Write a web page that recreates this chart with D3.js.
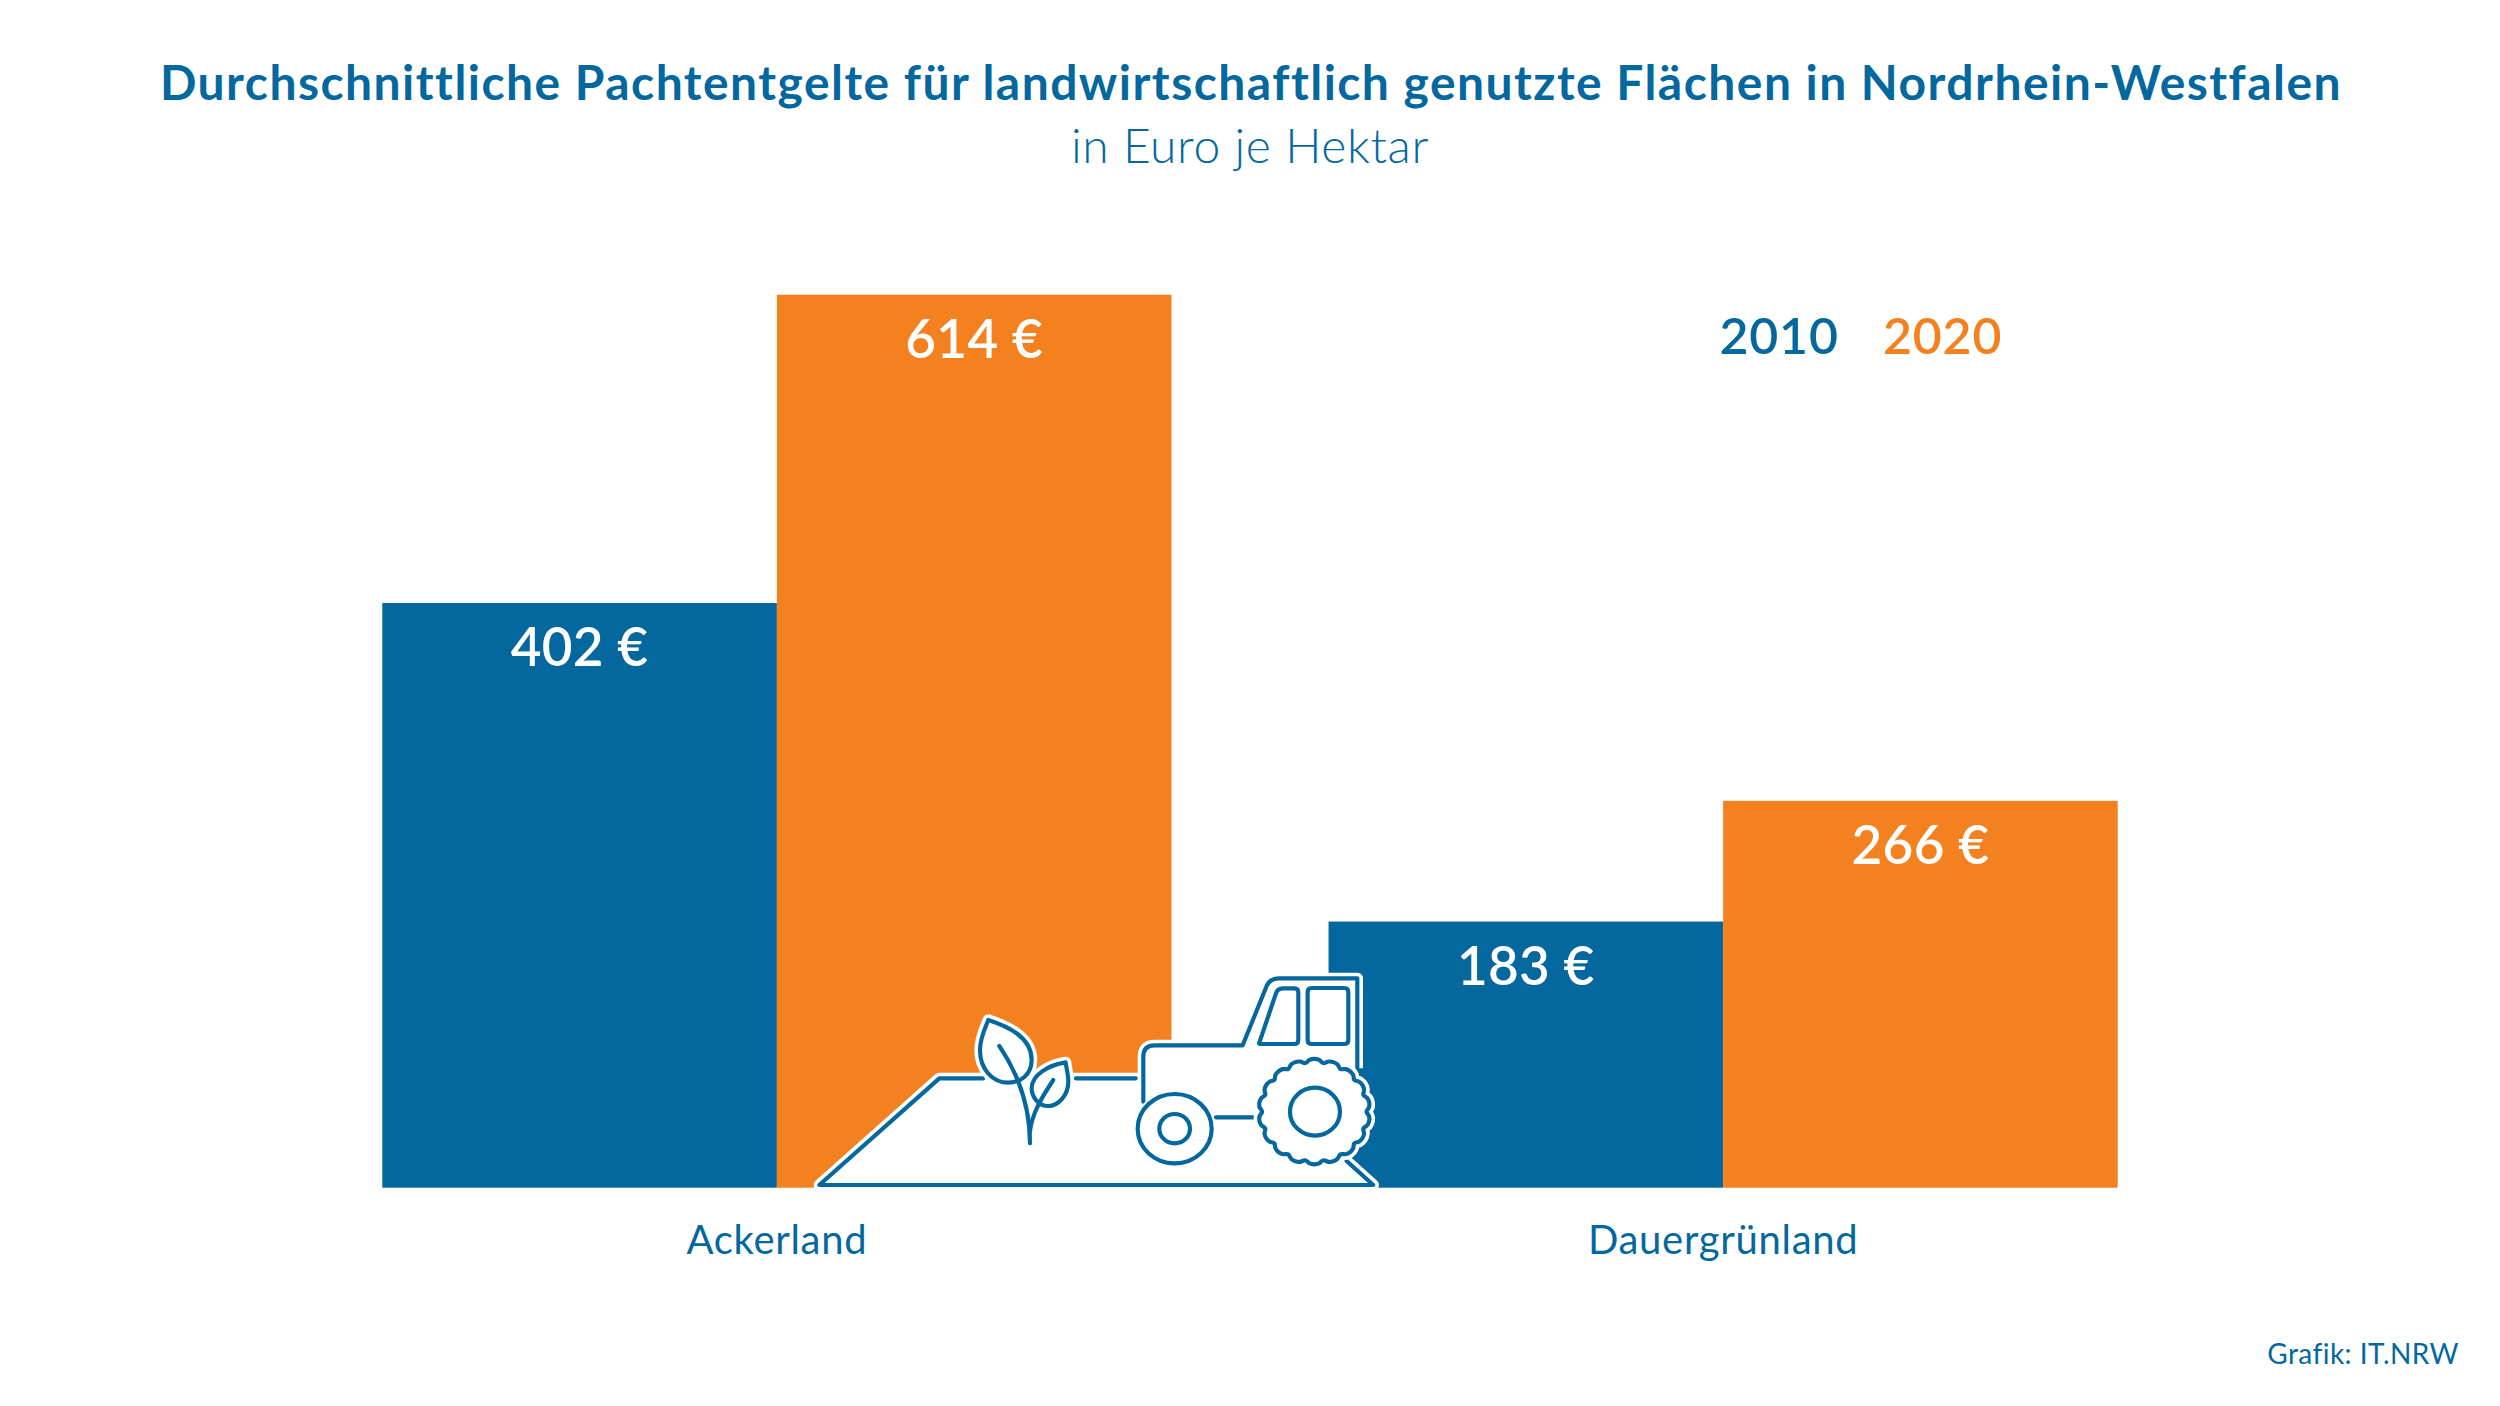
<!DOCTYPE html>
<html>
<head>
<meta charset="utf-8">
<title>Pachtentgelte NRW</title>
<script src="https://cdn.jsdelivr.net/npm/d3@7/dist/d3.min.js"></script>
<style>
  html, body { margin: 0; padding: 0; background: #fff; }
  text { font-family: Lato, "Open Sans", sans-serif; }
</style>
</head>
<body>
<div id="chart"></div>
<script>
var categories = ["Ackerland", "Dauergrünland"];
var years = ["2010", "2020"];
var values2010 = [402, 183];
var values2020 = [614, 266];
var titleText = "Durchschnittliche Pachtentgelte für landwirtschaftlich genutzte Flächen in Nordrhein-Westfalen";
var subtitleText = "in Euro je Hektar";
var sourceText = "Grafik: IT.NRW";

var blue = "#04689f", orange = "#f4811f";
var width = 2500, height = 1406;

var svg = d3.select("#chart").append("svg")
    .attr("width", width)
    .attr("height", height)
    .style("display", "block");

var x0 = d3.scaleBand().domain(categories).range([382.3, 2117.7]).paddingInner(0.166);
var x1 = d3.scaleBand().domain(years).range([0, x0.bandwidth()]);
var y = d3.scaleLinear().domain([0, 614]).range([1187.7, 294.7]);
var color = d3.scaleOrdinal().domain(years).range([blue, orange]);

// title
svg.append("text")
    .attr("x", 1251).attr("y", 99.5)
    .attr("text-anchor", "middle")
    .attr("fill", blue)
    .attr("font-size", 48).attr("font-weight", 700)
    .attr("letter-spacing", 1.46)
    .text(titleText);

svg.append("text")
    .attr("x", 1250).attr("y", 163)
    .attr("text-anchor", "middle")
    .attr("fill", blue)
    .attr("font-size", 48).attr("font-weight", 300)
    .attr("letter-spacing", 0.65)
    .text(subtitleText);

// bars
var rows = [];
categories.forEach(function (c, i) {
    rows.push({ cat: c, year: "2010", value: values2010[i] });
    rows.push({ cat: c, year: "2020", value: values2020[i] });
});

svg.selectAll("rect.bar")
    .data(rows)
    .enter().append("rect")
    .attr("class", "bar")
    .attr("x", function (d) { return x0(d.cat) + x1(d.year); })
    .attr("y", function (d) { return y(d.value); })
    .attr("width", x1.bandwidth())
    .attr("height", function (d) { return y(0) - y(d.value); })
    .attr("fill", function (d) { return color(d.year); });

svg.selectAll("text.value")
    .data(rows)
    .enter().append("text")
    .attr("class", "value")
    .attr("x", function (d) { return x0(d.cat) + x1(d.year) + x1.bandwidth() / 2; })
    .attr("y", function (d) { return y(d.value) + 63; })
    .attr("text-anchor", "middle")
    .attr("fill", "#fff")
    .attr("font-size", 53).attr("font-weight", 600)
    .attr("letter-spacing", 0.3)
    .text(function (d) { return d.value + " €"; });

// category axis
var axis = svg.append("g")
    .attr("transform", "translate(0," + y(0) + ")")
    .call(d3.axisBottom(x0).tickSize(0).tickPadding(38));
axis.select(".domain").remove();
axis.selectAll("text")
    .attr("fill", blue)
    .attr("font-size", 40)
    .attr("letter-spacing", 0.7)
    .style("font-family", "Lato, sans-serif");

// legend
var legendX = d3.scaleOrdinal().domain(years).range([1719.5, 1883]);
svg.selectAll("text.legend")
    .data(years)
    .enter().append("text")
    .attr("class", "legend")
    .attr("x", function (d) { return legendX(d); })
    .attr("y", 354)
    .attr("fill", function (d) { return color(d); })
    .attr("font-size", 50).attr("font-weight", 600)
    .attr("letter-spacing", 0.8)
    .text(function (d) { return d; });

svg.append("text")
    .attr("x", 2467).attr("y", 1364)
    .attr("text-anchor", "end")
    .attr("fill", blue)
    .attr("font-size", 28)
    .attr("letter-spacing", 0.45)
    .attr("dx", -8)
    .text(sourceText);

// field and plant icon, coordinates at 3x around (800,1000)
var field = svg.append("g").attr("transform", "translate(800,1000) scale(0.3333)");

function halo(g, d) {
    g.append("path").attr("d", d)
        .attr("fill", "#fff").attr("stroke", "#fff")
        .attr("stroke-width", 34).attr("stroke-linejoin", "round");
}
function line(g, d, fill) {
    g.append("path").attr("d", d)
        .attr("fill", fill || "none").attr("stroke", blue)
        .attr("stroke-width", 12.5).attr("stroke-linejoin", "round").attr("stroke-linecap", "round");
}

halo(field, "M58,555 L418,235 L1300,235 L1640,483 L1720,555 Z");
line(field, "M550,235 H418 L58,555 H1720 L1640,483");
line(field, "M828,235 H1008");

var leafBig = "M565,60 C620,78 695,110 695,180 C695,225 660,248 625,248 C580,248 540,210 540,150 C540,115 555,85 565,60 Z";
var leafSmall = "M797,187 C800,210 805,225 805,245 C805,285 775,318 745,318 C715,318 695,290 695,265 C695,225 745,195 797,187 Z";
halo(field, leafBig);
halo(field, leafSmall);
line(field, leafBig);
line(field, leafSmall);
line(field, "M598,138 C640,200 690,300 690,430");
line(field, "M760,240 C730,285 695,340 690,395");

// tractor, coordinates at 3x around (1120,960)
var tractor = svg.append("g").attr("transform", "translate(1120,960) scale(0.3333)");
var body = "M70,425 V290 Q70,256 104,256 H368 L440,78 Q450,55 478,55 H712 V325";
halo(tractor, body);
line(tractor, body);
line(tractor, "M418,248 L468,100 Q473,85 488,85 H523 Q535,85 535,97 V240 Q535,252 523,252 H425 Q414,252 418,248 Z");
line(tractor, "M575,84 H673 Q685,84 685,96 V240 Q685,252 673,252 H575 Q563,252 563,240 V96 Q563,84 575,84 Z");
line(tractor, "M288,472 H400");

function wheel(cx, cy, rx, ry) {
    tractor.append("ellipse").attr("cx", cx).attr("cy", cy).attr("rx", rx).attr("ry", ry)
        .attr("fill", "#fff").attr("stroke", "#fff").attr("stroke-width", 24);
    tractor.append("ellipse").attr("cx", cx).attr("cy", cy).attr("rx", rx).attr("ry", ry)
        .attr("fill", "#fff").attr("stroke", blue).attr("stroke-width", 12.5);
}
wheel(164, 506, 111, 104);
tractor.append("ellipse").attr("cx", 164).attr("cy", 506).attr("rx", 46).attr("ry", 44)
    .attr("fill", "none").attr("stroke", blue).attr("stroke-width", 12.5);

// rear tyre with lugs
var lugCount = 18;
var lugPoints = d3.range(lugCount * 4).map(function (i) {
    var a = i / (lugCount * 4) * 2 * Math.PI;
    var k = (i % 4 === 0) ? 0.955 : (i % 4 === 2 ? 1.02 : 1.005);
    return [583 + 164 * k * Math.cos(a), 455 + 155 * k * Math.sin(a)];
});
var lugPath = d3.line().curve(d3.curveCatmullRomClosed)(lugPoints);
tractor.append("path").attr("d", lugPath)
    .attr("fill", "#fff").attr("stroke", "#fff").attr("stroke-width", 34);
tractor.append("path").attr("d", lugPath)
    .attr("fill", "#fff").attr("stroke", blue).attr("stroke-width", 12.5);
tractor.append("ellipse").attr("cx", 585).attr("cy", 455).attr("rx", 75).attr("ry", 72)
    .attr("fill", "none").attr("stroke", blue).attr("stroke-width", 12.5);
</script>
</body>
</html>
